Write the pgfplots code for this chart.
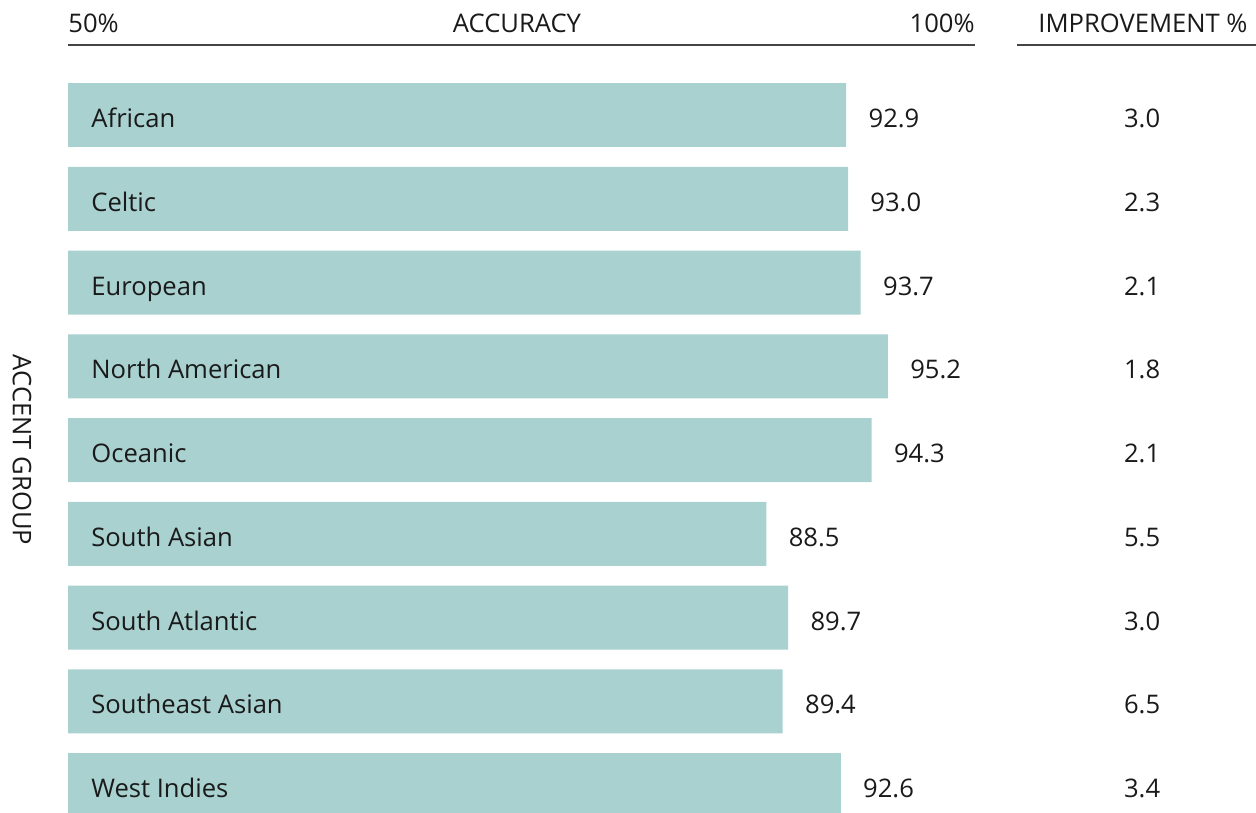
\documentclass[border=0pt]{standalone}
\usepackage{fontspec}
\setmainfont{Open Sans}
\usepackage{pgfplots}
\usepackage{pgfplotstable}
\pgfplotsset{compat=1.18}
\definecolor{barc}{HTML}{A8D1CF}
\definecolor{txt}{HTML}{1A1A1A}
\definecolor{rulec}{HTML}{444444}

\pgfplotstableread[col sep=comma]{
idx,name,acc,imp
0,African,92.9,3.0
1,Celtic,93.0,2.3
2,European,93.7,2.1
3,North American,95.2,1.8
4,Oceanic,94.3,2.1
5,South Asian,88.5,5.5
6,South Atlantic,89.7,3.0
7,Southeast Asian,89.4,6.5
8,West Indies,92.6,3.4
}\datatable

\newcommand{\fs}{\fontsize{12.8}{15}\selectfont}

\begin{document}
\begin{tikzpicture}
\begin{axis}[
  at={(0,0)}, anchor=south west,
  scale only axis,
  width=628pt, height=406pt,
  xmin=-3.749, xmax=65.49,
  ymin=-1.373, ymax=8.322,
  y dir=reverse,
  axis lines=none,
  ticks=none,
  clip=true,
  clip bounding box=upper bound,
]
\addplot[xbar, fill=barc, draw=none, bar width=0.764, bar shift=0pt]
  table[x expr=\thisrow{acc}-50, y=idx] {\datatable};

\addplot[draw=none, mark=none, nodes near coords, point meta=explicit symbolic,
  every node near coord/.style={anchor=base west, inner sep=0pt, xshift=11pt, yshift=-6.3pt, font=\fs, text=txt}]
  table[x expr=\thisrow{acc}-50, y=idx, meta=acc] {\datatable};

\addplot[draw=none, mark=none, nodes near coords, point meta=explicit symbolic,
  every node near coord/.style={anchor=base west, inner sep=0pt, xshift=11.5pt, yshift=-6.3pt, font=\fs, text=txt}]
  table[x expr=0, y=idx, meta=name] {\datatable};

\addplot[draw=none, mark=none, nodes near coords, point meta=explicit symbolic,
  every node near coord/.style={anchor=base, inner sep=0pt, yshift=-6.3pt, font=\fs, text=txt}]
  table[x expr=59.21, y=idx, meta=imp] {\datatable};

\draw[rulec, line width=0.75pt] (axis cs:0,-0.836) -- (axis cs:50,-0.836);
\draw[rulec, line width=0.75pt] (axis cs:52.32,-0.836) -- (axis cs:65.49,-0.836);
\node[anchor=base west, inner sep=0pt, font=\fs, text=txt] at (axis cs:0,-0.983) {50\%};
\node[anchor=base, inner sep=0pt, font=\fs, text=txt] at (axis cs:24.75,-0.983) {ACCURACY};
\node[anchor=base east, inner sep=0pt, font=\fs, text=txt] at (axis cs:50,-0.983) {100\%};
\node[anchor=base, inner sep=0pt, font=\fs, text=txt] at (axis cs:59.26,-0.983) {IMPROVEMENT \%};
\node[rotate=-90, inner sep=0pt, font=\fs, text=txt] at (axis cs:-2.536,4.0) {ACCENT GROUP};
\end{axis}
\pgfresetboundingbox
\useasboundingbox (current axis.south west) rectangle (current axis.north east);
\end{tikzpicture}
\end{document}
